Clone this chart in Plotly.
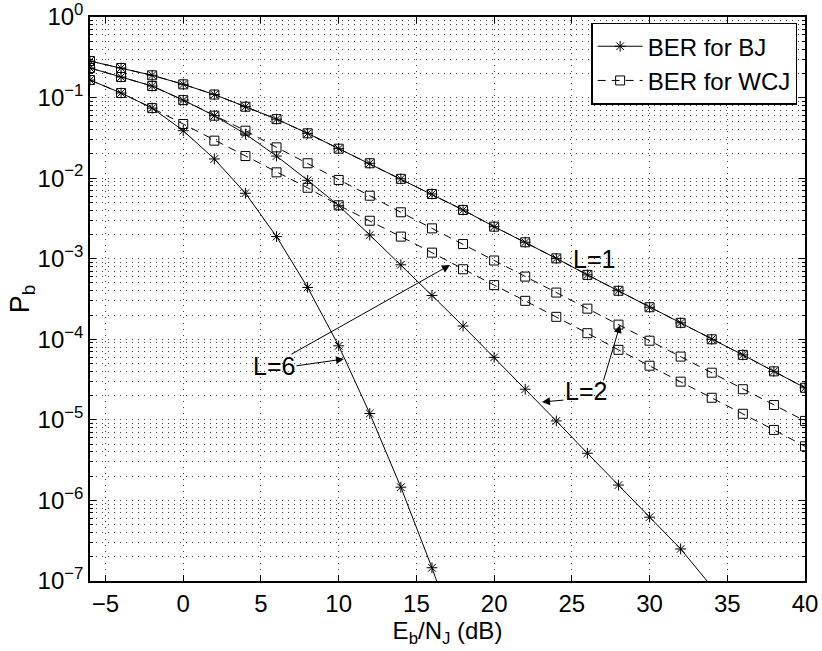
import plotly.graph_objects as go

# ---- data ----
snr = [-6, -4, -2, 0, 2, 4, 6, 8, 10, 12, 14, 16, 18, 20, 22, 24, 26, 28, 30, 32, 34, 36, 38, 40]

bj_L1 = [0.284, 0.233, 0.189, 0.146, 0.109, 0.077, 0.054, 0.036, 0.0232, 0.0153, 0.0098, 0.00635,
         0.00403, 0.0025, 0.0016, 0.00101, 6.3e-4, 4.0e-4, 2.5e-4, 1.6e-4, 1.0e-4, 6.4e-5, 4.0e-5, 2.5e-5]
wcj_L1 = list(bj_L1)

snr_L2 = [-6, -4, -2, 0, 2, 4, 6, 8, 10, 12, 14, 16, 18, 20, 22, 24, 26, 28, 30, 32, 34]
bj_L2 = [0.233, 0.18, 0.139, 0.093, 0.0596, 0.0353, 0.0188, 0.0094, 0.00455, 0.00197, 8.4e-4, 3.5e-4,
         1.46e-4, 5.97e-5, 2.4e-5, 9.7e-6, 3.85e-6, 1.55e-6, 6.2e-7, 2.5e-7, 8.5e-8]
wcj_L2 = [0.233, 0.18, 0.139, 0.093, 0.0596, 0.0388, 0.0241, 0.0153, 0.0095, 0.00605, 0.00377, 0.00238,
          0.00152, 9.5e-4, 6.0e-4, 3.8e-4, 2.4e-4, 1.52e-4, 9.6e-5, 6.1e-5, 3.85e-5, 2.4e-5, 1.53e-5, 9.7e-6]

snr_L6 = [-6, -4, -2, 0, 2, 4, 6, 8, 10, 12, 14, 16, 18]
bj_L6 = [0.165, 0.114, 0.074, 0.0388, 0.0173, 0.0065, 0.00188, 4.4e-4, 8.3e-5, 1.2e-5, 1.46e-6, 1.46e-7, 1.2e-8]
wcj_L6 = [0.165, 0.114, 0.074, 0.047, 0.0292, 0.0188, 0.0118, 0.0076, 0.0046, 0.00296, 0.00188, 0.00119,
          7.4e-4, 4.7e-4, 3.0e-4, 1.9e-4, 1.19e-4, 7.4e-5, 4.7e-5, 2.98e-5, 1.88e-5, 1.19e-5, 7.5e-6, 4.7e-6]

x_ticks = [-5, 0, 5, 10, 15, 20, 25, 30, 35, 40]
y_tickvals = [1e0, 1e-1, 1e-2, 1e-3, 1e-4, 1e-5, 1e-6, 1e-7]
y_ticktext = ["10<sup>0</sup>", "10<sup>−1</sup>", "10<sup>−2</sup>", "10<sup>−3</sup>",
              "10<sup>−4</sup>", "10<sup>−5</sup>", "10<sup>−6</sup>", "10<sup>−7</sup>"]

FONT = "Liberation Sans"

fig = go.Figure()

bj_style = dict(mode="lines+markers", line=dict(color="black", width=1),
                marker=dict(symbol="asterisk-open", size=9, color="black", line=dict(color="black", width=1)))
wcj_style = dict(mode="lines+markers", line=dict(color="black", width=1, dash="8px,6px"),
                 marker=dict(symbol="square-open", size=9, color="black", line=dict(color="black", width=1)))

fig.add_trace(go.Scatter(x=snr, y=bj_L1, name="BER for BJ", showlegend=True, **bj_style))
fig.add_trace(go.Scatter(x=snr, y=wcj_L1, name="BER for WCJ", showlegend=True, **wcj_style))
fig.add_trace(go.Scatter(x=snr_L2, y=bj_L2, name="BER for BJ", showlegend=False, **bj_style))
fig.add_trace(go.Scatter(x=snr, y=wcj_L2, name="BER for WCJ", showlegend=False, **wcj_style))
fig.add_trace(go.Scatter(x=snr_L6, y=bj_L6, name="BER for BJ", showlegend=False, **bj_style))
fig.add_trace(go.Scatter(x=snr, y=wcj_L6, name="BER for WCJ", showlegend=False, **wcj_style))

grid = dict(gridcolor="#444", gridwidth=1, griddash="1px,5px")

fig.update_xaxes(range=[-6, 40], tickvals=x_ticks, ticks="inside", ticklen=6, tickcolor="black",
                 showline=True, linecolor="black", linewidth=1.5, mirror="ticks", zeroline=False,
                 showgrid=True, automargin=False, **grid,
                 tickfont=dict(family=FONT, size=24, color="black"),
                 title=dict(text="E<sub>b</sub>/N<sub>J</sub> (dB)", font=dict(family=FONT, size=24, color="black"),
                            standoff=0))
fig.update_yaxes(type="log", range=[-7, 0], tickvals=y_tickvals, ticktext=y_ticktext,
                 ticks="inside", ticklen=6, tickcolor="black",
                 showline=True, linecolor="black", linewidth=1.5, mirror="ticks", zeroline=False,
                 showgrid=True, automargin=False, **grid,
                 minor=dict(dtick="D1", ticks="inside", ticklen=3, tickcolor="black", showgrid=True, **grid),
                 tickfont=dict(family=FONT, size=24, color="black"),
                 title=dict(text="P<sub>b</sub>", font=dict(family=FONT, size=27, color="black"), standoff=0))

# text labels
for txt, xx, ly in [("L=1", 26.42, -3.004), ("L=2", 25.91, -4.642), ("L=6", 5.84, -4.332)]:
    fig.add_annotation(x=xx, y=ly, text=txt, showarrow=False, xref="x", yref="y",
                       font=dict(family=FONT, size=25, color="black"))

# arrows (head in data coords, tail as pixel offset)
for hx, hy, ax, ay in [(17.16, -3.078, -160, 90), (10.34, -4.245, -49, 7),
                       (23.08, -4.778, 23, -2), (28.10, -3.823, -17, 57)]:
    fig.add_annotation(x=hx, y=hy, ax=ax, ay=ay, text="", showarrow=True, xref="x", yref="y",
                       arrowhead=2, arrowsize=1.6, arrowwidth=1, arrowcolor="black", standoff=0)

fig.update_layout(
    width=822, height=651,
    margin=dict(l=90, r=17, t=17, b=70, autoexpand=False),
    paper_bgcolor="white", plot_bgcolor="white",
    showlegend=True,
    legend=dict(x=0.989, y=0.99, xanchor="right", yanchor="top",
                bgcolor="white", bordercolor="black", borderwidth=1.5,
                font=dict(family=FONT, size=24, color="black"),
                tracegroupgap=0, itemwidth=45),
)

fig.write_html("out.html")
